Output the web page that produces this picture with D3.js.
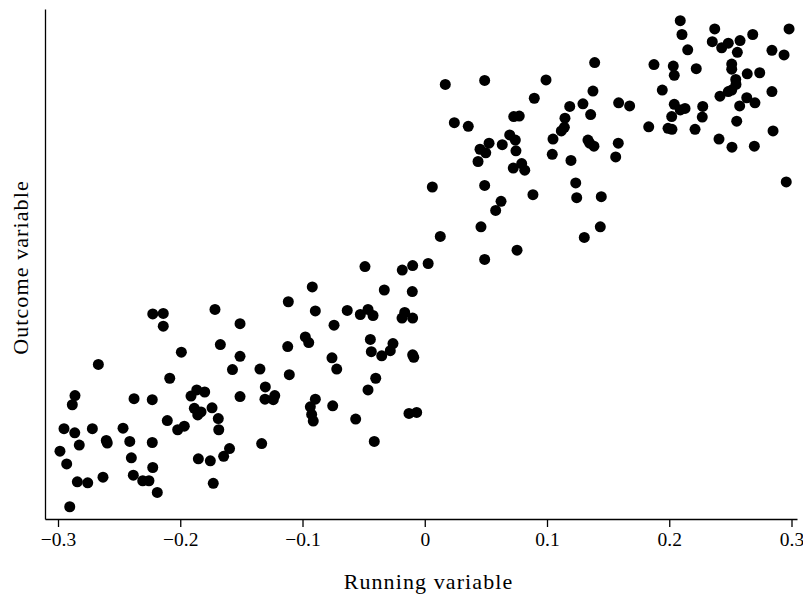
<!DOCTYPE html>
<html>
<head>
<meta charset="utf-8">
<script src="https://cdn.jsdelivr.net/npm/d3@7"></script>
<style>
  html, body { margin: 0; padding: 0; background: #fff; }
  svg { display: block; }
</style>
</head>
<body>
<svg id="chart" width="803" height="595"></svg>
<script>
// Running variable (x) for each observation
const running = [
  -0.2225, -0.2139, -0.2139, -0.1716, -0.1511, -0.1672, -0.1991, -0.2670, -0.1511, -0.1573,
  -0.2086, -0.2861, -0.2883, -0.2378, -0.2229, -0.1912, -0.1865, -0.1800, -0.1511, -0.1885,
  -0.1830, -0.1857, -0.1740, -0.1689, -0.1685, -0.2106, -0.2021, -0.1967, -0.2951, -0.2863,
  -0.2719, -0.2468, -0.2826, -0.2605, -0.2597, -0.2413, -0.2229, -0.2984, -0.2929, -0.2400,
  -0.1852, -0.1754, -0.1597, -0.1645, -0.2225, -0.2842, -0.2757, -0.2632, -0.2384, -0.2307,
  -0.2256, -0.2188, -0.1730, -0.2904,
  -0.0489, -0.0184, -0.0099, 0.0028, -0.0920, -0.0331, -0.0102, -0.1116, -0.0895, -0.0634,
  -0.0527, -0.0464, -0.0423, -0.0186, -0.0164, -0.0099, -0.0742, -0.0977, -0.0949, -0.1121,
  -0.0445, -0.0437, -0.0352, -0.0282, -0.0260, -0.0099, -0.0090, -0.0759, -0.0720, -0.1348,
  -0.1108, -0.1304, -0.0401, -0.0464, -0.1307, -0.1227, -0.1239, -0.0895, -0.0936, -0.0925,
  -0.0912, -0.0753, -0.0565, -0.0129, -0.0066, -0.0413, -0.1334,
  0.1390, 0.0168, 0.0490, 0.0992, 0.1376, 0.0896, 0.1186, 0.1294, 0.1357, 0.0242,
  0.0356, 0.0728, 0.0773, 0.1147, 0.1142, 0.1117, 0.0695, 0.0741, 0.0526, 0.0634,
  0.0452, 0.0499, 0.0746, 0.1049, 0.1335, 0.1349, 0.1384, 0.0436, 0.0724, 0.0793,
  0.0818, 0.1043, 0.1196, 0.0062, 0.0490, 0.0885, 0.1235, 0.1243, 0.1444, 0.0624,
  0.0580, 0.0460, 0.0127, 0.1436, 0.1305, 0.0755, 0.0490,
  0.2090, 0.2104, 0.2372, 0.2352, 0.2429, 0.2483, 0.2579, 0.2683, 0.2980, 0.2151,
  0.2557, 0.2840, 0.2939, 0.1875, 0.2033, 0.2041, 0.2221, 0.2511, 0.2511, 0.2638,
  0.2740, 0.2544, 0.2546, 0.2511, 0.2483, 0.1943, 0.2840, 0.2415, 0.2634, 0.2701,
  0.2576, 0.1586, 0.1676, 0.2041, 0.2090, 0.2129, 0.2274, 0.2020, 0.2270, 0.1832,
  0.1990, 0.2022, 0.2211, 0.2552, 0.2849, 0.2407, 0.2513, 0.2696, 0.1583, 0.1562,
  0.2957
];

// Outcome variable (y) for each observation, same order
const outcome = [
  4.02, 4.03, 3.78, 4.11, 3.83, 3.42, 3.27, 3.03, 3.19, 2.93,
  2.76, 2.42, 2.24, 2.36, 2.34, 2.41, 2.53, 2.49, 2.40, 2.17,
  2.10, 2.04, 2.18, 1.97, 1.75, 1.93, 1.75, 1.82, 1.77, 1.69,
  1.77, 1.78, 1.45, 1.54, 1.49, 1.52, 1.50, 1.33, 1.08, 1.20,
  1.18, 1.14, 1.38, 1.23, 1.01, 0.73, 0.71, 0.82, 0.86, 0.75,
  0.75, 0.52, 0.70, 0.24,
  4.95, 4.88, 4.97, 5.01, 4.55, 4.49, 4.46, 4.26, 4.08, 4.09,
  4.01, 4.11, 3.99, 3.94, 4.05, 3.94, 3.80, 3.57, 3.46, 3.38,
  3.52, 3.28, 3.20, 3.30, 3.44, 3.22, 3.17, 3.16, 2.94, 2.94,
  2.83, 2.59, 2.76, 2.53, 2.35, 2.42, 2.34, 2.35, 2.20, 2.05,
  1.92, 2.22, 1.96, 2.07, 2.09, 1.52, 1.48,
  8.95, 8.52, 8.60, 8.61, 8.39, 8.25, 8.09, 8.14, 7.93, 7.77,
  7.70, 7.89, 7.90, 7.86, 7.68, 7.61, 7.53, 7.43, 7.37, 7.34,
  7.25, 7.18, 7.22, 7.45, 7.43, 7.37, 7.31, 7.01, 6.88, 6.97,
  6.84, 7.15, 7.03, 6.51, 6.54, 6.36, 6.59, 6.30, 6.32, 6.23,
  6.05, 5.73, 5.54, 5.73, 5.52, 5.27, 5.09,
  9.77, 9.50, 9.61, 9.36, 9.24, 9.33, 9.38, 9.50, 9.61, 9.20,
  9.15, 9.19, 9.10, 8.91, 8.88, 8.70, 8.83, 8.92, 8.82, 8.73,
  8.75, 8.62, 8.52, 8.41, 8.38, 8.41, 8.38, 8.29, 8.26, 8.16,
  8.10, 8.16, 8.10, 8.13, 8.02, 8.05, 8.09, 7.89, 7.88, 7.69,
  7.66, 7.64, 7.64, 7.80, 7.61, 7.45, 7.29, 7.31, 7.37, 7.10,
  6.61
];

// Axis ticks on the running variable
const xTicks = [-0.3, -0.2, -0.1, 0, 0.1, 0.2, 0.3];

const points = running.map((r, i) => ({ x: r, y: outcome[i] }));

const svg = d3.select("#chart");
const serif = '"Liberation Serif", "Times New Roman", serif';

// plot region (L-shaped frame: left and bottom axes only)
const plotLeft = 45, plotRight = 797, plotTop = 9, plotBottom = 519;

const x = d3.scaleLinear()
  .domain([-0.31064, 0.30450])
  .range([plotLeft, plotRight]);

const y = d3.scaleLinear()
  .domain([0, 10])
  .range([plotBottom, plotTop]);

const fmt = d => d === 0 ? "0" : d3.format(".1f")(d);

// bottom axis
const gx = svg.append("g")
  .attr("transform", `translate(0,${plotBottom})`)
  .call(d3.axisBottom(x).tickValues(xTicks).tickFormat(fmt).tickSize(8).tickSizeOuter(0).tickPadding(5));
gx.select(".domain").attr("stroke", "#000").attr("stroke-width", 1.3);
gx.selectAll(".tick line").attr("stroke", "#000").attr("stroke-width", 1.3);
gx.selectAll(".tick text")
  .attr("fill", "#000")
  .style("font-size", "19.5px")
  .style("font-family", serif);

// left axis: plain line, no ticks
const gy = svg.append("g")
  .attr("transform", `translate(${plotLeft},0)`)
  .call(d3.axisLeft(y).tickValues([]).tickSizeOuter(0));
gy.select(".domain").attr("stroke", "#000").attr("stroke-width", 1.3);

// points
svg.append("g")
  .selectAll("circle")
  .data(points)
  .join("circle")
  .attr("cx", d => x(d.x))
  .attr("cy", d => y(d.y))
  .attr("r", 5.5)
  .attr("fill", "#000");

// axis titles
svg.append("text")
  .attr("x", 428.5)
  .attr("y", 589)
  .attr("text-anchor", "middle")
  .style("font-family", serif)
  .style("font-size", "22px")
  .style("letter-spacing", "1.1px")
  .attr("fill", "#000")
  .text("Running variable");

svg.append("text")
  .attr("transform", "translate(28,267.5) rotate(-90)")
  .attr("text-anchor", "middle")
  .style("font-family", serif)
  .style("font-size", "22px")
  .style("letter-spacing", "1.1px")
  .attr("fill", "#000")
  .text("Outcome variable");
</script>
</body>
</html>
